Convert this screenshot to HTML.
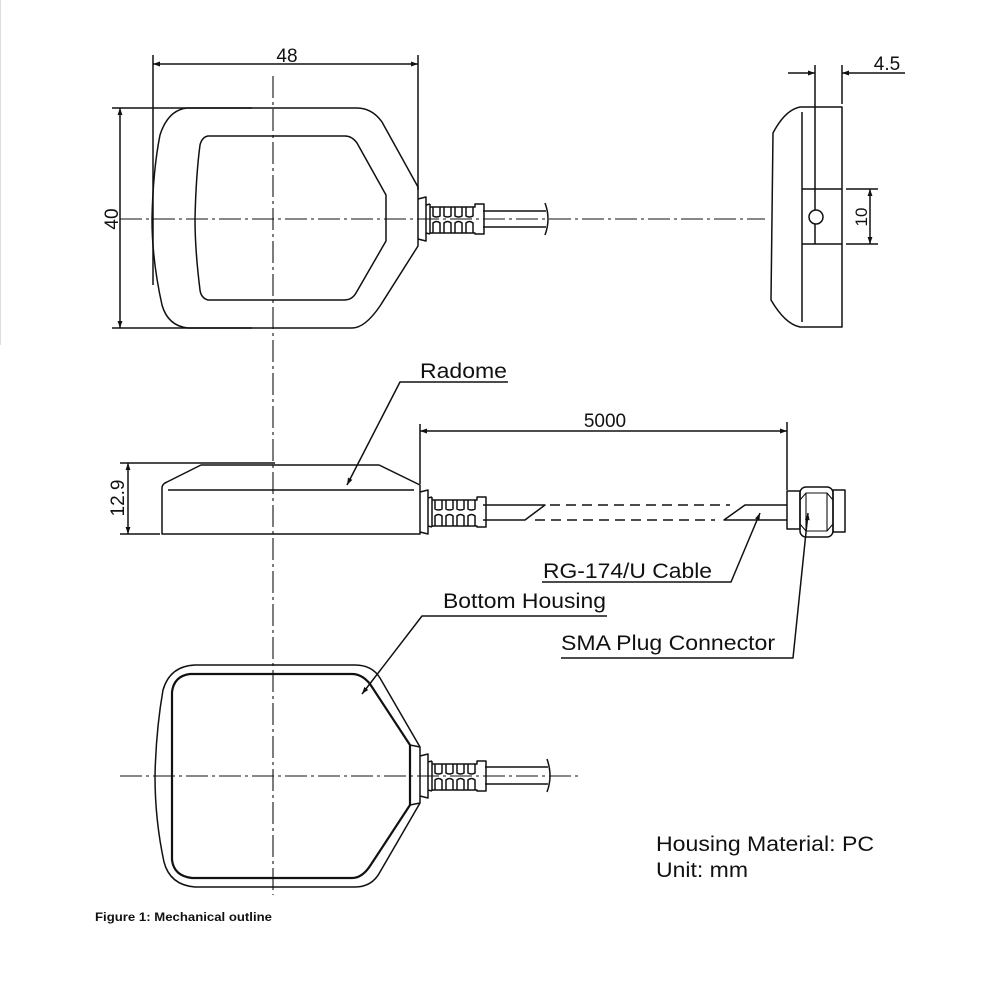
<!DOCTYPE html>
<html><head><meta charset="utf-8"><style>
html,body{margin:0;padding:0;background:#fff;}
svg{display:block;}
text{font-family:"Liberation Sans",Arial,sans-serif;fill:#111;}
</style></head><body>
<svg id="s" width="1000" height="1000" viewBox="0 0 1000 1000" xmlns="http://www.w3.org/2000/svg">
<defs>
<marker id="a" viewBox="0 0 10 10" refX="10" refY="5" markerWidth="11" markerHeight="7" orient="auto-start-reverse" markerUnits="userSpaceOnUse"><path d="M0,1.5 L10,5 L0,8.5 Z" fill="#111"/></marker>
</defs>
<line x1="0.5" y1="0" x2="0.5" y2="345" stroke="#ddd" stroke-width="1"/>
<g fill="none" stroke="#111" stroke-width="1.5" stroke-linejoin="round">
<!-- TOP VIEW -->
<line x1="153" y1="55" x2="153" y2="285"/>
<line x1="418" y1="55" x2="418" y2="190"/>
<line x1="153" y1="64" x2="418" y2="64" marker-start="url(#a)" marker-end="url(#a)"/>
<line x1="112" y1="108" x2="252" y2="108"/>
<line x1="112" y1="328" x2="252" y2="328"/>
<line x1="120" y1="108" x2="120" y2="328" marker-start="url(#a)" marker-end="url(#a)"/>
<path d="M187,108 L357,108 Q372,108 382,122 L418,187 L418,246 L380,306 Q365,328 352,328 L188,328 Q168,326 162,305 Q152,260 152,219 Q153,170 160,135 Q168,110 187,108 Z"/>
<path d="M208,136 L345,136 Q352,136 357,143 L386,195 L386,241 L356,293 Q352,300 344,300 L208,300 Q201,298 200,290 Q195,250 195,219 Q196,175 200,145 Q202,137 208,136 Z"/>
<line x1="273" y1="76" x2="273" y2="895" stroke-width="1.1" stroke-dasharray="22,4,3,4"/>
<line x1="120" y1="219" x2="765" y2="219" stroke-width="1.1" stroke-dasharray="22,4,3,4"/>
<g id="sr1"></g>
<line x1="483" y1="211" x2="546" y2="211"/><line x1="483" y1="227" x2="546" y2="227"/>
<path d="M545,203 Q551,219 545,235"/>
<!-- SIDE VIEW RIGHT -->
<line x1="788" y1="73" x2="815" y2="73" marker-end="url(#a)"/>
<line x1="905" y1="73" x2="842" y2="73" marker-end="url(#a)"/>
<line x1="815" y1="65" x2="815" y2="244"/>
<line x1="842" y1="65" x2="842" y2="104"/>
<path d="M842,107 L800,107 Q785,110 773,133 L771,300 Q785,324 800,327 L842,327 Z"/>
<line x1="802" y1="112" x2="802" y2="322"/>
<line x1="802" y1="189" x2="842" y2="189"/><line x1="802" y1="244" x2="842" y2="244"/>
<circle cx="816" cy="217" r="7" fill="#fff"/>
<line x1="846" y1="189" x2="878" y2="189"/><line x1="846" y1="244" x2="878" y2="244"/>
<line x1="870" y1="189" x2="870" y2="244" marker-start="url(#a)" marker-end="url(#a)"/>
<!-- SIDE VIEW MIDDLE -->
<path d="M162,534 L162,488 Q162,484 167,482 L201,465 L379,465 L420,485 L420,534 Z"/>
<line x1="168" y1="490" x2="414" y2="490"/>
<line x1="120" y1="463" x2="275" y2="463"/><line x1="120" y1="534" x2="160" y2="534"/>
<line x1="128" y1="463" x2="128" y2="534" marker-start="url(#a)" marker-end="url(#a)"/>
<g id="sr2"></g>
<path d="M483,505 L545,505 L525,520 L483,520"/>
<line x1="550" y1="505" x2="730" y2="505" stroke-dasharray="10,6"/>
<line x1="535" y1="520" x2="715" y2="520" stroke-dasharray="10,6"/>
<path d="M787,505 L745,505 L724,520 L787,520"/>
<rect x="787" y="491" width="13" height="38"/>
<rect x="800" y="487" width="33" height="50" rx="6"/>
<path d="M800,500 L806,493 L827,493 L833,500 M800,524 L806,531 L827,531 L833,524 M806,493 L806,531 M827,493 L827,531" stroke-width="1.1"/>
<rect x="833" y="490" width="12" height="42"/>
<line x1="420" y1="424" x2="420" y2="484"/>
<line x1="787" y1="422" x2="787" y2="490"/>
<line x1="420" y1="431" x2="787" y2="431" marker-start="url(#a)" marker-end="url(#a)"/>
<!-- labels leaders -->
<polyline points="508,382 400,382 347,485" marker-end="url(#a)"/>
<polyline points="542,582 731,582 760,513" marker-end="url(#a)"/>
<polyline points="607,616 422,616 362,694" marker-end="url(#a)"/>
<polyline points="561,658 793,658 808,513" marker-end="url(#a)"/>
<!-- BOTTOM VIEW -->
<path d="M195,665 L355,665 Q372,665 380,678 L420,747 L420,803 L380,872 Q372,887 355,887 L195,887 Q170,885 164,862 Q155,820 155,776 Q156,730 163,690 Q170,666 195,665 Z"/>
<path d="M190,674 L352,674 Q362,674 370,684 L410,745 L410,805 L370,866 Q362,878 352,878 L192,878 Q174,876 172,860 L172,692 Q174,676 190,674 Z" stroke-width="2.2"/>
<path d="M410,745 L420,747 M410,805 L420,803" />
<line x1="120" y1="776" x2="578" y2="776" stroke-width="1.1" stroke-dasharray="22,4,3,4"/>
<g id="sr3"></g>
<line x1="485" y1="767" x2="548" y2="767"/><line x1="485" y1="784" x2="548" y2="784"/>
<path d="M547,759 Q553,776 547,792"/>
</g>
<text x="287" y="62" font-size="19" text-anchor="middle">48</text>
<text transform="translate(118,219) rotate(-90)" font-size="19" text-anchor="middle">40</text>
<text x="887" y="70" font-size="19" text-anchor="middle">4.5</text>
<text transform="translate(867,217) rotate(-90)" font-size="17" text-anchor="middle">10</text>
<text transform="translate(124,498) rotate(-90)" font-size="19" text-anchor="middle">12.9</text>
<text x="605" y="427" font-size="19" text-anchor="middle">5000</text>
<text x="420" y="378" font-size="21" textLength="87" lengthAdjust="spacingAndGlyphs">Radome</text>
<text x="543" y="578" font-size="21" textLength="169" lengthAdjust="spacingAndGlyphs">RG-174/U Cable</text>
<text x="443" y="608" font-size="21" textLength="163" lengthAdjust="spacingAndGlyphs">Bottom Housing</text>
<text x="561" y="650" font-size="21" textLength="214" lengthAdjust="spacingAndGlyphs">SMA Plug Connector</text>
<text x="656" y="851" font-size="21" textLength="218" lengthAdjust="spacingAndGlyphs">Housing Material: PC</text>
<text x="656" y="877" font-size="21" textLength="92" lengthAdjust="spacingAndGlyphs">Unit: mm</text>
<text x="95" y="921" font-size="12" font-weight="bold" textLength="177" lengthAdjust="spacingAndGlyphs">Figure 1: Mechanical outline</text>
</svg>
<script>
function sr(id,x0,cy){
  var g=document.getElementById(id),s='';
  s+='<path d="M'+x0+','+(cy-20)+' L'+(x0+8)+','+(cy-22)+' L'+(x0+8)+','+(cy+22)+' L'+x0+','+(cy+20)+'"/>';
  s+='<path d="M'+(x0+8)+','+(cy-14)+' L'+(x0+12)+','+(cy-15)+' M'+(x0+8)+','+(cy+14)+' L'+(x0+12)+','+(cy+15)+'"/>';
  var xs=x0+12;
  s+='<path d="M'+xs+','+(cy-15)+' L'+xs+','+(cy+15)+'"/>';
  for(var i=0;i<4;i++){
    var fx=xs+3+i*11;
    s+='<path d="M'+fx+','+(cy-12)+' L'+fx+','+(cy-3)+' Q'+(fx+3.5)+','+(cy-1)+' '+(fx+7)+','+(cy-3)+' L'+(fx+7)+','+(cy-12)+'"/>';
    s+='<path d="M'+fx+','+(cy+14)+' L'+fx+','+(cy+4)+' Q'+(fx+3.5)+','+(cy+1)+' '+(fx+7)+','+(cy+4)+' L'+(fx+7)+','+(cy+14)+'"/>';
  }
  var xe=xs+49;
  s+='<path d="M'+xs+','+(cy-12)+' L'+(xe-4)+','+(cy-12)+' L'+(xe-4)+','+(cy-15)+' L'+(xe+5)+','+(cy-15)+' L'+(xe+5)+','+(cy+15)+' L'+(xe-4)+','+(cy+15)+' L'+(xe-4)+','+(cy+14)+' L'+xs+','+(cy+14)+'"/>';
  g.innerHTML=s;
}
sr('sr1',418,219);sr('sr2',420,512);sr('sr3',420,776);
</script>
</body></html>
